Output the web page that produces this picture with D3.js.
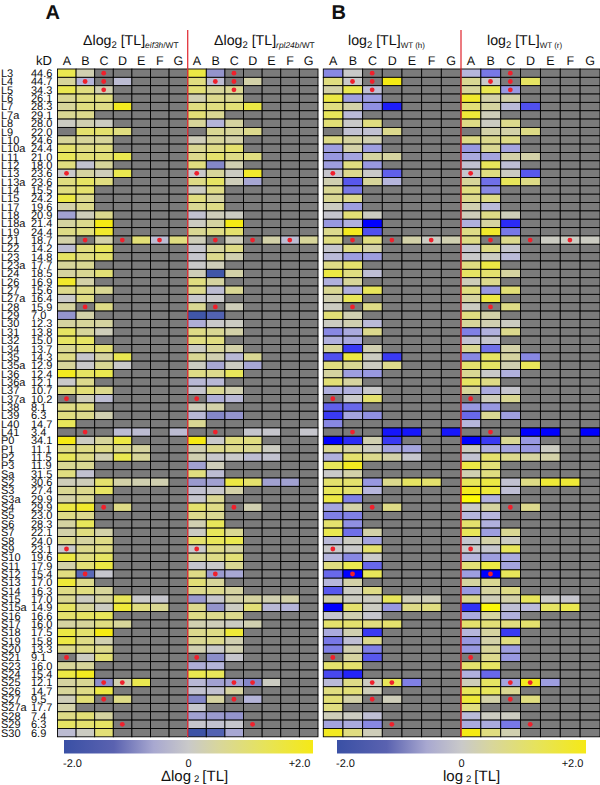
<!DOCTYPE html>
<html><head><meta charset="utf-8">
<script src="https://cdn.jsdelivr.net/npm/d3@7"></script>
<style>html,body{margin:0;padding:0;background:#fff}svg{display:block}text{font-family:"Liberation Sans",Arial,sans-serif;fill:#111;text-rendering:geometricPrecision}</style>
</head><body><svg id="c" width="600" height="785"></svg>
<script>
const _ = null;
const proteins = ["L3","L4","L5","L6","L7","L7a","L8","L9","L10","L10a","L11","L12","L13","L13a","L14","L15","L17","L18","L18a","L19","L21","L22","L23","L23a","L24","L26","L27","L27a","L28","L29","L30","L31","L32","L34","L35","L35a","L36","L36a","L37","L37a","L38","L39","L40","L41","P0","P1","P2","P3","Sa","S2","S3","S3a","S4","S5","S6","S7","S8","S9","S10","S11","S12","S13","S14","S15","S15a","S16","S17","S18","S19","S20","S21","S23","S24","S25","S26","S27","S27a","S28","S29","S30"];
const kD = ["44.6","44.7","34.3","26.1","28.3","29.1","28.0","22.0","24.6","24.4","21.0","18.0","23.6","23.6","15.5","24.2","19.6","20.9","21.4","24.4","18.7","14.2","14.8","17.7","18.5","16.9","15.6","16.4","15.9","7.0","12.3","13.8","15.0","13.7","14.3","12.9","12.4","12.1","10.7","10.2","8.1","6.3","14.7","3.4","34.1","11.1","11.5","11.9","31.5","30.6","27.4","29.9","29.9","23.0","28.3","22.1","24.0","23.1","19.6","17.9","15.4","17.0","16.3","17.0","14.9","16.6","16.0","17.5","15.8","13.3","9.1","16.0","15.4","12.1","14.7","9.5","17.7","7.4","6.3","6.9"];
const fractions = ["A","B","C","D","E","F","G"];
const dotRows = ["L3","L4","L4","L5","L13","L21","L21","L21","L28","L37a","L41","S4","S9","S12","S21","S25","S25","S27","S29"];
const dotCols = ["C","B","C","C","A","B","D","F","B","A","B","C","A","B","A","C","D","C","D"];

const deltaEif3h = [[1.5,.3],[.6,-.5,_,-.3],[1.5,1,.3],[.7,1,1],[.6,1,.9,1.9],[.7,.8],[.1,.3,.1],[_,1.2,1.2,1],[.6,.6,.6],[1.2,.9,1],[1.4,1.1,1.1,1.5],[1,-.2,.6],[0,.5,.2,1.5],[1,1.3,1],[1,1.2],[1.6,.8],[.4,.8],[-.8,.2,.8],[.5,.8,2],[.9,1,1.8],[.4,_,.4,_,1.1,-.3,1],[-.3,1,1.4],[1.3,1,1.2],[.6,.7],[.5,.7,1.1],[1.8,.4],[.8,.9,.7],[0,.9],[.5,_,.9],[-1,.4],[.5,.6,.5],[1.3,.6,.2],[1.3,1.3],[.7,1,1.1],[.9,-.1,.5,1.5],[.6,0,.7,0],[1.9,1.3,1.5],[0,.8],[1,1.1,.8],[_,.2,-.3],[.9,1],[1,.8,.3],[1.4],[_,_,_,-.3,-.3,_,-.3],[2,.1,.6,1.6],[.9,.9,.9,.7,.5],[1.4,.9,.3,1.5,.6],[.7,.7],[1,-.2],[.2,.2,1.2,.4,.3,.3],[.7,.8,1.3],[.4,.7],[1.6,1.8,_,.9],[.9,.8],[.5,1.4],[.4,1,.4],[.8,.5,.9],[0,.8,.9],[1.6,1,1.3],[.4,1.1,1.6],[1,-1.7,-.1],[1.7,.8],[.9,1,.6],[.7,.1,.5,1.4,0,-.1],[1.3,.6,.1,1.7,1,.7],[1.2,1.3,1.4],[.5,.6,1,.6],[1.6,1.2,2],[1.6,.9,.3],[.8,.9,.8],[_,.1,1.1],[.6,.6],[1.6,1.9],[.5,.7,-1.1,.3,1.5],[.6,.9,1.6],[.2,1.1,_,.9],[.4],[.9,1.1,.5],[1.3,1.2,1.3],[-.3,.1,1.1]];
const deltaRpl24b = [[1.6,-1],[1,-.3,_,.4],[1.1,.6,.7],[.3,.8,.7],[1,1,1.1,1.6],[1.1,.7],[.6,-.5,.5],[_,.7,.6,.8],[.2,.6,.4],[.7,.9,1.2],[.8,1.2,.9,1],[1,-1.2,.3],[0,.6,.1,1.8],[.9,1.3,.2,-.7],[.1,.9],[1,.5],[.7,.9],[-.2,.2,.1],[.1,.5,2],[.7,.9,1.2],[.2,_,.2,_,.4,-.3,.6],[-.1,.5,.9],[-.1,.8,.3],[0,.2],[.2,-2,.4],[1,.5],[.8,-.3,.7],[-.05,0],[.7,_,.2],[-2,-1.8],[-.6,0,.1],[.9,.7,.4],[1,1],[.1,.6,.4],[.7,.3,-.4,.7],[.1,-.7,.1,-.7],[.9,.8,1.4],[-.4,-.4],[-.1,.7,.3],[_,-.6,-.4],[.2,.4],[-.4,-1.2,-1],[.7],[_,_,_,-.1,-.1,_,-.1],[2,0,1,1],[.3,.8,.8,.7,.1],[.3,-.05,0,-.3,-.2],[-.8,.2],[1,-.3],[-.9,-.8,1.6,1.2,-.8,-.8],[-.2,-.05,.4],[-.1,.7],[1.2,.9,_,.3],[.8,.7],[.3,1.4],[.1,1.4,.7],[1.2,1.4,1.5],[0,.9,.5],[.7,.9,1.1],[-.1,0,.7],[.9,-.9,-.7],[1.1,.6],[.8,.8,.5],[-.9,-.1,.4,.5,.3,.4],[.8,-1,.1,1.1,-.4,-.5],[.9,.8,.8],[.3,.2,.1,.3],[.8,.9,1.7],[.7,.8,.3],[.3,0,.3],[_,-1.1,-.1],[-.6,-.5],[1.5,1.4],[-.4,-.8,-.8,-1.2,.1],[-.2,-.2,.5],[-1.2,.5,_,-.5],[-.1],[-.8,-.9,-1],[-.1,-.2,-.1],[-2.2,-1.8,-.7]];
const logWTh = [[-1.2,0],[1,0,_,2],[.4,1.5,-.3],[1.6,-.9,-.9],[1,.4,-1.1,-2.6],[1.4,-.4],[1.1,0,1],[_,-.2,-.2,.8],[.9,.5,.3],[-.9,.4,-.9],[-1,-.8,.5,.5],[-.9,1,-1],[-.1,.8,0,-1.7],[.3,-1.8,.6,-.5],[.7,-1.4],[.7,.8],[.1,-.9],[-.1,1.1,.1],[-1,-.6,-3],[.8,1.9,-1.9],[1,_,1,_,.4,.1,.3],[-.1,.9,.4],[-.4,-.9,-.9],[.9,1.2],[1.6,1,-.3],[-.6,.6],[.7,-.6,1.4],[.3,1.4],[.1,_,.9],[1.1,.3],[.1,.3,-.4],[-1.2,-.7,.8],[-.6,-.7],[.6,-2.2,.3],[-1.9,1.6,.1,-2.2],[1,.7,.1,.8],[.5,-.9,-1],[1.1,.5],[-.6,-.6,0],[_,0,1.2],[-1.7,-1.6],[-2.2,-.8,-1.1],[-1.2],[_,_,_,-2.7,-2.7,_,-2.7],[-3,-2.4,.3,-2.2],[.7,.4,.1,-.8,-.8],[-.6,1.2,.8,.4,-.1],[1.4,1.9],[0,.4],[1.2,1.2,-1,.8,1.3,1.2],[1.4,1.2,-.5],[1.6,-1.3],[-.8,.4,_,.9],[-1.3,-1.3],[1.2,-1.1],[1.5,-1.5,.4],[-.4,.1,-.8],[0,0,1.2],[-.5,-1.2,0],[1,1.5,-1.6],[-1.6,-3,1.4],[-.5,.4],[-1.8,.1,.9],[.4,.1,.1,1.4,.2,.2],[-3,1.2,.1,-1,.9,1],[-.1,.3,-.1],[1.2,1.2,1,1.2],[-.7,.3,-2.2],[-1.4,-.3,.8],[-1.3,.3,-1.3],[_,.5,-1.8],[1.2,1.2],[-2,-2.5],[-.4,.9,.1,1.4,-1.3],[1,1.1,.2],[1.1,.4,_,.2],[1],[.2,.1,-.3],[-.8,-.7,-1.2],[1.9,1,.2]];
const logWTr = [[-.5,-1.4],[.7,0,_,1.3],[.6,1.5,-1],[1.8,.4,.4],[1.1,.5,-.4,-1.9],[1.7,.2],[.9,.1,.8],[_,.4,.4,.9],[.9,.8,.9],[-1,.7,-.8],[-.7,-.8,.4,.4],[-.2,1.4,-.3],[-.1,1,.1,-1.8],[.6,-1.5,1.4,.9],[1,-1.2],[.8,.9],[.3,-.4],[.2,.9,.2],[-.6,.5,-2.4],[.9,1.8,-1.4],[.9,_,.8,_,.1,.1,.1],[-.1,.9,-.1],[0,.1,-.4],[1,1.6],[1.3,1.2,.5],[.2,.8],[1,-1,1.1],[.5,1.6],[.1,_,.9],[1,.4],[.6,.3,.1],[-1.3,-.6,.8],[-.2,-.1],[.7,-1.5,.4],[-1.2,1.3,.5,-1.2],[1.2,1.3,.3,1.4],[.7,0,-.6],[1.3,.9],[.6,-.7,-.1],[_,.2,.7],[-1,-1],[-1.6,.7,-.9],[-.5],[_,_,_,-3,-3,_,-3],[-3,-2.2,.7,-1],[.1,-.6,-.8,-1,.1],[-.2,1.2,.8,.5,.4],[1.6,1.1],[.3,1],[1.4,1.6,-.2,.9,1.7,1.7],[1.9,1.7,-.3],[2.4,-.6],[0,.5,_,.8],[-.5,-.5],[1.2,-.6],[1.4,-.9,.7],[-.1,.4,.1],[0,-.1,1.4],[-.5,-.9,-.7],[1.1,1.6,-.8],[-.9,-3,1.4],[.5,.7],[-1,.5,.9],[.8,.2,.4,1.4,0,-.1],[-2.3,2.3,-.3,-.4,1.3,1.5],[-.7,.5,-.6],[1.2,1.1,1,1.2],[-.5,.5,-2.2],[-1,.4,1],[-1,.6,-.9],[_,.8,-1],[1.2,1.3],[-.6,-1.6],[.2,1.3,-.8,1.9,-.9],[1.4,1.4,.7],[1.7,.4,_,1],[1],[-.4,.1,.1],[-.7,-.7,-1.4],[2,1,.3]];

const colorStops = [-3,-2,-1.5,-1,-.5,0,.5,1,1.5,2,2.5];
const coolA = ["#2f45a0","#4056a8","#6c74c0","#9494cc","#b4b4d8","#c9c9c9","#d5d3a0","#e0dd80","#eae850","#f5ea14","#ffff00"];
const coolB = ["#0000ff","#4848f0","#7070e8","#9898e0","#b6b6dc","#c9c9c9","#d5d3a0","#e0dd80","#eae850","#f5ea14","#ffff00"];
const legendStops = [0,.2,.36,.5,.62,.8,1];
const legendColors = ["#3a50a5","#5a62b0","#a8a8d0","#c9c9c9","#d8d69c","#e6e35c","#f5e916"];

const colorA = d3.scaleLinear().domain(colorStops).range(coolA).clamp(true);
const colorB = d3.scaleLinear().domain(colorStops).range(coolB).clamp(true);
const svg = d3.select("#c");
const y = d3.scaleBand().domain(proteins).range([69,736.8]);
const panels = [
 {vals:deltaEif3h,r:[57.5,187.7],c:colorA},
 {vals:deltaRpl24b,r:[187.7,318],c:colorA},
 {vals:logWTh,r:[323.3,461],c:colorB},
 {vals:logWTr,r:[461,600],c:colorB}];

proteins.forEach((p,i)=>{
  const yy=y(p)+y.bandwidth()/2+3.9;
  svg.append("text").attr("x",1).attr("y",yy).attr("font-size",11).text(p);
  svg.append("text").attr("x",31).attr("y",yy).attr("font-size",11).text(kD[i]);
});
svg.append("text").attr("x",36).attr("y",65).attr("font-size",13).text("kD");

panels.forEach(P=>{
  const x=d3.scaleBand().domain(fractions).range(P.r);
  const g=svg.append("g");
  const cells=[];
  P.vals.forEach((row,i)=>fractions.forEach((f,j)=>{
    const v=row[j];
    cells.push({p:proteins[i],f,v:(v===undefined?null:v)});
  }));
  g.selectAll("rect").data(cells).join("rect")
    .attr("x",d=>x(d.f)).attr("y",d=>y(d.p))
    .attr("width",x.bandwidth()).attr("height",y.bandwidth())
    .attr("fill",d=>d.v===null?"#7b7b7b":P.c(d.v))
    .attr("stroke","#000").attr("stroke-width",.9);
  svg.selectAll(null).data(fractions).join("text").attr("x",d=>x(d)+x.bandwidth()/2)
    .attr("y",65).attr("text-anchor","middle").attr("font-size",12.5).text(d=>d);
  P.x=x;
});
panels.forEach(P=>{
  svg.append("g").selectAll("circle").data(dotRows.map((r,i)=>({r,c:dotCols[i]}))).join("circle")
    .attr("cx",d=>P.x(d.c)+P.x.bandwidth()/2-.3).attr("cy",d=>y(d.r)+y.bandwidth()/2)
    .attr("r",2.4).attr("fill","#f0202c");
});
[187.7,461].forEach(xx=>svg.append("line").attr("x1",xx).attr("x2",xx).attr("y1",30).attr("y2",737)
   .attr("stroke","#e2343c").attr("stroke-width",1.3));

function header(x,y0,pre,sub,suf){
  const t=svg.append("text").attr("x",x).attr("y",y0).attr("font-size",14.2);
  t.append("tspan").text(pre);
  t.append("tspan").attr("font-size",9.5).attr("dy",3).text("2");
  t.append("tspan").attr("dy",-3).text(" [TL]");
  const s=t.append("tspan").attr("dy",3);
  if(suf){ s.attr("font-size",8.4).attr("font-style","italic").text(sub); t.append("tspan").attr("font-size",8.4).text(suf); }
  else s.attr("font-size",8).text(sub);
}
header(83,44.5,"Δlog","eif3h","/WT");
header(214,44.5,"Δlog","rpl24b","/WT");
header(348,44.5,"log","WT (h)");
header(487,44.5,"log","WT (r)");
svg.append("text").attr("x",45.5).attr("y",19).attr("font-size",20).attr("font-weight","bold").text("A");
svg.append("text").attr("x",331.5).attr("y",19).attr("font-size",20).attr("font-weight","bold").text("B");

const defs=svg.append("defs");
const grad=defs.append("linearGradient").attr("id","lg");
grad.selectAll("stop").data(legendStops).join("stop").attr("offset",d=>d).attr("stop-color",(d,i)=>legendColors[i]);

const legendTicks=[-2,0,2];
const tickFmt=d=>d===0?"0":(d>0?"+":"")+d.toFixed(1);
[{b:[64,313],t:[72,188,299],lab:"Δlog",lx:161},{b:[337,586],t:[345,461,572],lab:"log",lx:443}].forEach(L=>{
  svg.append("rect").attr("x",L.b[0]).attr("y",740).attr("width",L.b[1]-L.b[0]).attr("height",13.5).attr("fill","url(#lg)");
  const s=d3.scaleLinear().domain(legendTicks).range(L.t);
  const ax=svg.append("g").attr("transform","translate(0,753)").call(d3.axisBottom(s).tickValues(legendTicks).tickSize(0).tickFormat(tickFmt));
  ax.select(".domain").remove();
  ax.selectAll("text").attr("font-size",11).attr("y",4).attr("dy",".9em");
  const t=svg.append("text").attr("x",L.lx).attr("y",781).attr("font-size",15);
  t.append("tspan").text(L.lab);
  t.append("tspan").attr("font-size",9.5).attr("dy",1).attr("dx",3).text("2");
  t.append("tspan").attr("dy",-1).attr("dx",3).text("[TL]");
});
</script></body></html>
